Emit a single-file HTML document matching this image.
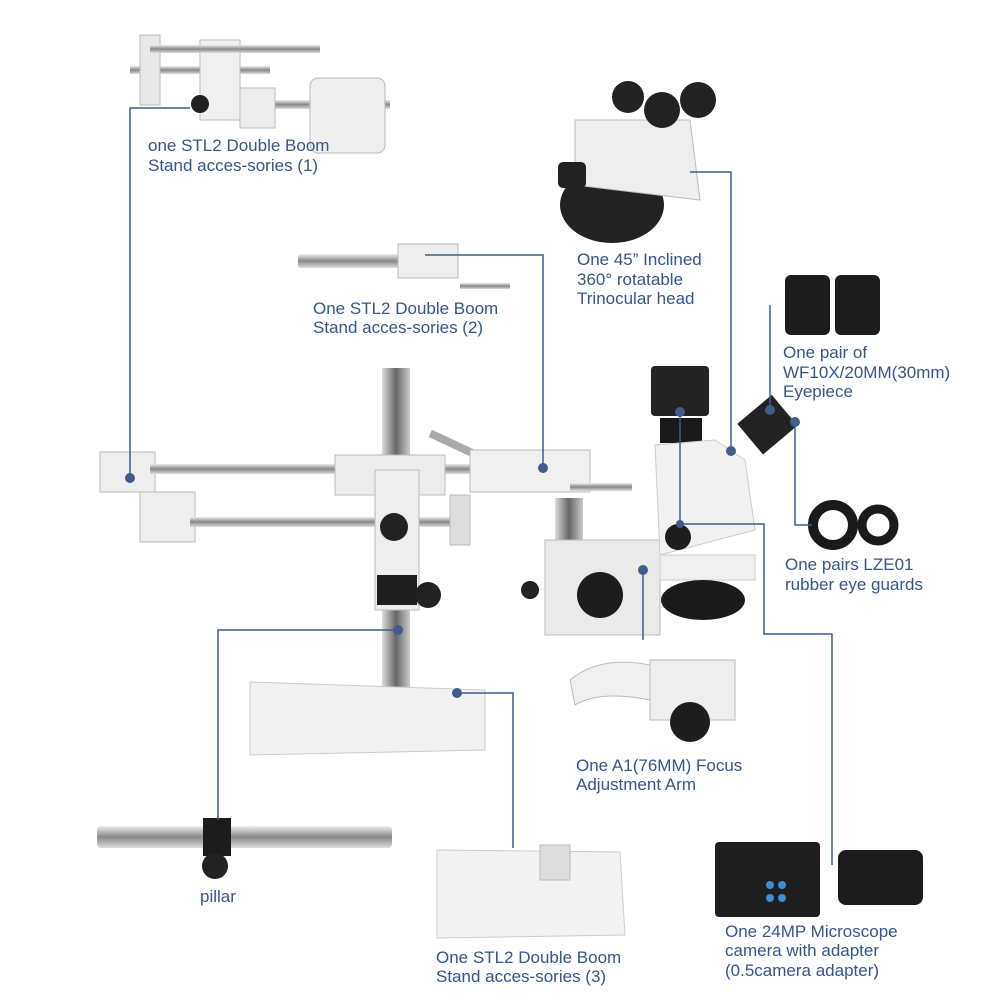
<!DOCTYPE html>
<html><head><style>
body{margin:0;background:#fff;}
svg{display:block;}
text{font-family:"Liberation Sans",sans-serif;font-size:17px;fill:#34568a;}
</style></head><body>
<svg width="1000" height="1000" viewBox="0 0 1000 1000">
<defs>
<linearGradient id="rod" x1="0" y1="0" x2="0" y2="1"><stop offset="0" stop-color="#eee"/><stop offset=".5" stop-color="#888"/><stop offset="1" stop-color="#ddd"/></linearGradient>
<linearGradient id="rodv" x1="0" y1="0" x2="1" y2="0"><stop offset="0" stop-color="#ddd"/><stop offset=".5" stop-color="#666"/><stop offset="1" stop-color="#ccc"/></linearGradient>
</defs>
<!-- accessory 1 -->
<rect x="130" y="66" width="140" height="8" fill="url(#rod)"/>
<rect x="140" y="35" width="20" height="70" fill="#e8e8e8" stroke="#bbb"/>
<rect x="200" y="40" width="40" height="80" fill="#f0f0f0" stroke="#bbb"/>
<rect x="150" y="45" width="170" height="8" fill="url(#rod)"/>
<rect x="240" y="100" width="150" height="9" fill="url(#rod)"/>
<rect x="310" y="78" width="75" height="75" rx="8" fill="#efefef" stroke="#bbb"/>
<rect x="240" y="88" width="35" height="40" fill="#ececec" stroke="#bbb"/>
<circle cx="200" cy="104" r="9" fill="#222"/>
<!-- accessory 2 -->
<rect x="298" y="254" width="120" height="14" rx="3" fill="url(#rod)"/>
<rect x="398" y="244" width="60" height="34" fill="#eee" stroke="#bbb"/>
<rect x="460" y="283" width="50" height="6" fill="url(#rod)"/>
<!-- trinocular head -->
<ellipse cx="612" cy="205" rx="52" ry="38" fill="#222"/>
<path d="M575 120 L690 120 L700 200 L575 185 Z" fill="#eee" stroke="#bbb"/>
<circle cx="628" cy="97" r="16" fill="#222"/>
<circle cx="662" cy="110" r="18" fill="#222"/>
<circle cx="698" cy="100" r="18" fill="#222"/>
<rect x="558" y="162" width="28" height="26" rx="5" fill="#222"/>
<!-- eyepieces -->
<rect x="785" y="275" width="45" height="60" rx="6" fill="#1d1d1d"/>
<rect x="835" y="275" width="45" height="60" rx="6" fill="#1d1d1d"/>
<!-- eye guards -->
<circle cx="833" cy="525" r="20" fill="none" stroke="#1a1a1a" stroke-width="10"/>
<circle cx="878" cy="525" r="16" fill="none" stroke="#1a1a1a" stroke-width="9"/>
<!-- main stand -->
<rect x="100" y="452" width="55" height="40" fill="#efefef" stroke="#bbb"/>
<rect x="140" y="492" width="55" height="50" fill="#efefef" stroke="#bbb"/>
<rect x="150" y="464" width="330" height="10" fill="url(#rod)"/>
<rect x="190" y="517" width="280" height="10" fill="url(#rod)"/>
<rect x="382" y="368" width="28" height="320" fill="url(#rodv)"/>
<rect x="335" y="455" width="110" height="40" fill="#ececec" stroke="#bbb"/>
<rect x="375" y="470" width="44" height="140" fill="#eee" stroke="#bbb"/>
<rect x="377" y="575" width="40" height="30" fill="#1e1e1e"/>
<circle cx="394" cy="527" r="14" fill="#222"/>
<circle cx="428" cy="595" r="13" fill="#222"/>
<rect x="450" y="495" width="20" height="50" fill="#ddd" stroke="#bbb"/>
<path d="M250 682 L485 690 L485 750 L250 755 Z" fill="#f2f2f2" stroke="#ccc"/>
<rect x="428" y="440" width="50" height="8" fill="#aaa" transform="rotate(25 453 444)"/>
<rect x="470" y="450" width="120" height="42" fill="#f0f0f0" stroke="#bbb"/>
<rect x="570" y="483" width="62" height="8" fill="url(#rod)"/>
<rect x="555" y="498" width="28" height="60" fill="url(#rodv)"/>
<rect x="545" y="540" width="115" height="95" fill="#eaeaea" stroke="#bbb"/>
<circle cx="600" cy="595" r="23" fill="#1d1d1d"/>
<circle cx="530" cy="590" r="9" fill="#222"/>
<!-- microscope body -->
<rect x="651" y="366" width="58" height="50" rx="4" fill="#222"/>
<rect x="660" y="418" width="42" height="25" fill="#1a1a1a"/>
<path d="M655 445 L715 440 L745 460 L755 530 L660 555 Z" fill="#f2f2f2" stroke="#ccc"/>
<rect x="745" y="405" width="45" height="40" fill="#222" transform="rotate(-40 767 425)"/>
<rect x="660" y="555" width="95" height="25" fill="#f0f0f0" stroke="#ccc"/>
<circle cx="678" cy="537" r="13" fill="#1d1d1d"/>
<ellipse cx="703" cy="600" rx="42" ry="20" fill="#1a1a1a"/>
<!-- focus arm -->
<path d="M570 680 Q600 655 650 665 L650 700 Q600 690 575 705 Z" fill="#f0f0f0" stroke="#bbb"/>
<rect x="650" y="660" width="85" height="60" fill="#eee" stroke="#bbb"/>
<circle cx="690" cy="722" r="20" fill="#1d1d1d"/>
<!-- pillar -->
<rect x="97" y="826" width="295" height="22" rx="4" fill="url(#rod)"/>
<rect x="203" y="818" width="28" height="38" fill="#1c1c1c"/>
<circle cx="215" cy="866" r="13" fill="#222"/>
<!-- base 3 -->
<path d="M437 850 L620 852 L625 935 L437 938 Z" fill="#f3f3f3" stroke="#ccc"/>
<rect x="540" y="845" width="30" height="35" fill="#ddd" stroke="#bbb"/>
<!-- camera -->
<rect x="715" y="842" width="105" height="75" rx="4" fill="#1e1e1e"/>
<circle cx="770" cy="885" r="4" fill="#3a8fd9"/><circle cx="782" cy="885" r="4" fill="#3a8fd9"/><circle cx="770" cy="898" r="4" fill="#3a8fd9"/><circle cx="782" cy="898" r="4" fill="#3a8fd9"/>
<rect x="838" y="850" width="85" height="55" rx="8" fill="#1c1c1c"/>
<!-- connectors -->
<g stroke="#3e5d8c" stroke-width="1.5" fill="none">
<polyline points="190,108 130,108 130,478"/>
<polyline points="425,255 543,255 543,468"/>
<polyline points="690,172 731,172 731,451"/>
<polyline points="770,305 770,410"/>
<polyline points="795,422 795,525 812,525"/>
<polyline points="680,412 680,524 764,524 764,634 832,634 832,865"/>
<polyline points="643,570 643,640"/>
<polyline points="398,630 218,630 218,820"/>
<polyline points="457,693 513,693 513,848"/>
</g>
<g fill="#3e5d8c">
<circle cx="130" cy="478" r="5"/><circle cx="543" cy="468" r="5"/><circle cx="731" cy="451" r="5"/>
<circle cx="770" cy="410" r="5"/><circle cx="795" cy="422" r="5"/><circle cx="680" cy="412" r="5"/>
<circle cx="680" cy="524" r="4"/><circle cx="643" cy="570" r="5"/><circle cx="398" cy="630" r="5"/><circle cx="457" cy="693" r="5"/>
</g>
<text x="148" y="151">one STL2 Double Boom</text>
<text x="148" y="171">Stand acces-sories (1)</text>
<text x="313" y="314">One STL2 Double Boom</text>
<text x="313" y="333">Stand acces-sories (2)</text>
<text x="577" y="265">One 45” Inclined</text>
<text x="577" y="285">360° rotatable</text>
<text x="577" y="304">Trinocular head</text>
<text x="783" y="358">One pair of</text>
<text x="783" y="378">WF10X/20MM(30mm)</text>
<text x="783" y="397">Eyepiece</text>
<text x="785" y="570">One pairs LZE01</text>
<text x="785" y="590">rubber eye guards</text>
<text x="576" y="771">One A1(76MM) Focus</text>
<text x="576" y="790">Adjustment Arm</text>
<text x="200" y="902">pillar</text>
<text x="436" y="963">One STL2 Double Boom</text>
<text x="436" y="982">Stand acces-sories (3)</text>
<text x="725" y="937">One 24MP Microscope</text>
<text x="725" y="956">camera with adapter</text>
<text x="725" y="976">(0.5camera adapter)</text>
</svg>
</body></html>
